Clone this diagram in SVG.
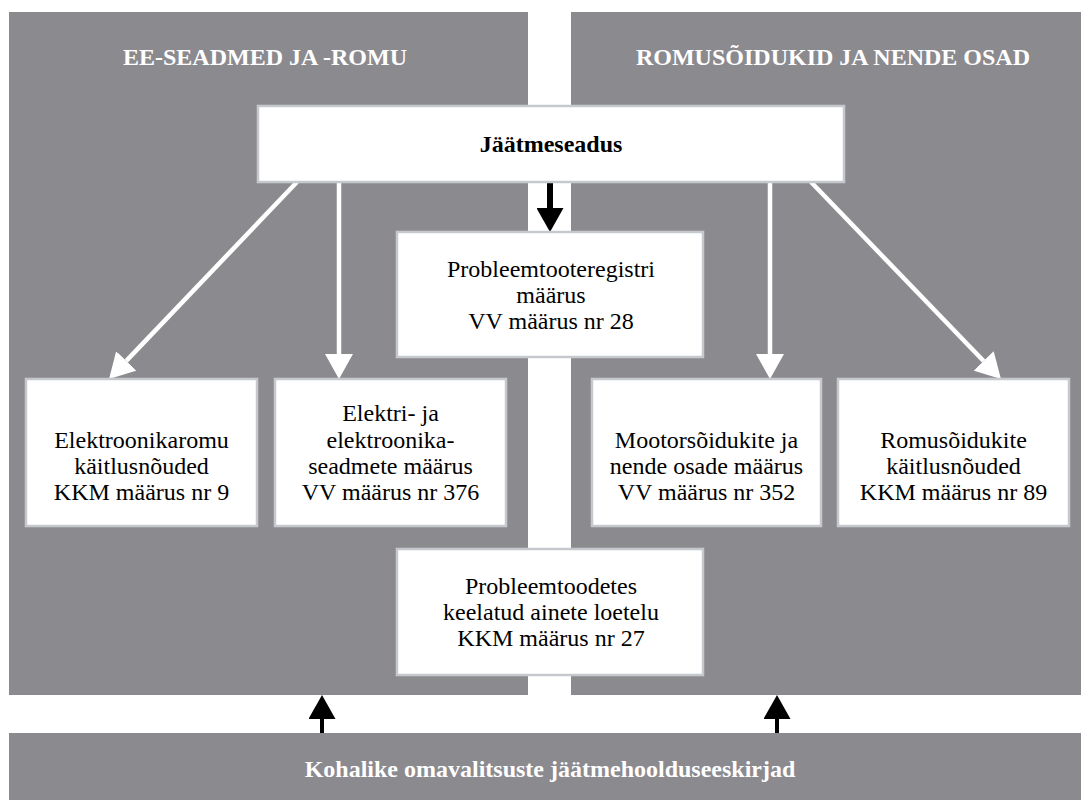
<svg xmlns="http://www.w3.org/2000/svg" width="1081" height="800" viewBox="0 0 1081 800">
<style>
.panel{fill:#8b8a8f}
.box{fill:#ffffff;stroke:#c5c9cd;stroke-width:2.5}
.t{font-family:"Liberation Serif","Tinos","Times New Roman","Times","Nimbus Roman","DejaVu Serif",serif;font-size:24px;text-anchor:middle;fill:#000}
.b{font-weight:bold}
.w{fill:#ffffff}
.wa{stroke:#ffffff;stroke-width:4.5;fill:none}
.ba{stroke:#000000;fill:none}
</style>
<defs>
<marker id="wh" markerUnits="userSpaceOnUse" viewBox="0 -14 25 28" markerWidth="25" markerHeight="28" refX="0" refY="0" orient="auto">
<path d="M0,-14 L25,0 L0,14 z" fill="#ffffff"/>
</marker>
<marker id="bh" markerUnits="userSpaceOnUse" viewBox="0 -13.5 24 27" markerWidth="24" markerHeight="27" refX="0" refY="0" orient="auto">
<path d="M0,-13.5 L24,0 L0,13.5 z" fill="#000000"/>
</marker>
</defs>
<rect width="1081" height="800" fill="#ffffff"/>
<g id="panel-left">
<rect class="panel" x="9" y="12" width="519" height="683"/>
<text class="t b w" x="265" y="65">EE-SEADMED JA -ROMU</text>
</g>
<g id="panel-right">
<rect class="panel" x="571" y="12" width="510" height="683"/>
<text class="t b w" x="833" y="65">ROMUSÕIDUKID JA NENDE OSAD</text>
</g>
<g id="bottom-bar">
<rect class="panel" x="9" y="733" width="1072" height="67"/>
<text class="t b w" x="550" y="777">Kohalike omavalitsuste jäätmehoolduseeskirjad</text>
</g>
<g id="connectors">
<line class="wa" x1="297" y1="182" x2="126.3" y2="360.9" marker-end="url(#wh)"/>
<line class="wa" x1="339" y1="182" x2="339" y2="354" marker-end="url(#wh)"/>
<line class="wa" x1="770" y1="182" x2="770" y2="354" marker-end="url(#wh)"/>
<line class="wa" x1="811" y1="182" x2="983.6" y2="361" marker-end="url(#wh)"/>
<line class="ba" x1="550" y1="182" x2="550" y2="208" stroke-width="6" marker-end="url(#bh)"/>
<line class="ba" x1="322" y1="733" x2="322" y2="719" stroke-width="4" marker-end="url(#bh)"/>
<line class="ba" x1="777" y1="733" x2="777" y2="719" stroke-width="4" marker-end="url(#bh)"/>
</g>
<g id="jaatmeseadus">
<rect class="box" x="258" y="106" width="586" height="76"/>
<text class="t b" x="551" y="152">Jäätmeseadus</text>
</g>
<g id="probleemtooteregistri">
<rect class="box" x="397" y="232" width="306" height="125"/>
<text class="t" x="551" y="277">Probleemtooteregistri</text>
<text class="t" x="551" y="303">määrus</text>
<text class="t" x="551" y="329">VV määrus nr 28</text>
</g>
<g id="elektroonikaromu">
<rect class="box" x="26" y="379" width="231" height="147"/>
<text class="t" x="141.5" y="448">Elektroonikaromu</text>
<text class="t" x="141.5" y="474">käitlusnõuded</text>
<text class="t" x="141.5" y="500">KKM määrus nr 9</text>
</g>
<g id="elektri">
<rect class="box" x="275" y="379" width="231" height="147"/>
<text class="t" x="390.5" y="421">Elektri- ja</text>
<text class="t" x="390.5" y="448">elektroonika-</text>
<text class="t" x="390.5" y="474">seadmete määrus</text>
<text class="t" x="390.5" y="500">VV määrus nr 376</text>
</g>
<g id="mootorsoidukite">
<rect class="box" x="592" y="379" width="229" height="147"/>
<text class="t" x="706.5" y="448">Mootorsõidukite ja</text>
<text class="t" x="706.5" y="474">nende osade määrus</text>
<text class="t" x="706.5" y="500">VV määrus nr 352</text>
</g>
<g id="romusoidukite">
<rect class="box" x="838" y="379" width="231" height="147"/>
<text class="t" x="953.5" y="448">Romusõidukite</text>
<text class="t" x="953.5" y="474">käitlusnõuded</text>
<text class="t" x="953.5" y="500">KKM määrus nr 89</text>
</g>
<g id="probleemtoodetes">
<rect class="box" x="397" y="549" width="306" height="126"/>
<text class="t" x="551" y="594">Probleemtoodetes</text>
<text class="t" x="551" y="620">keelatud ainete loetelu</text>
<text class="t" x="551" y="646">KKM määrus nr 27</text>
</g>
</svg>
